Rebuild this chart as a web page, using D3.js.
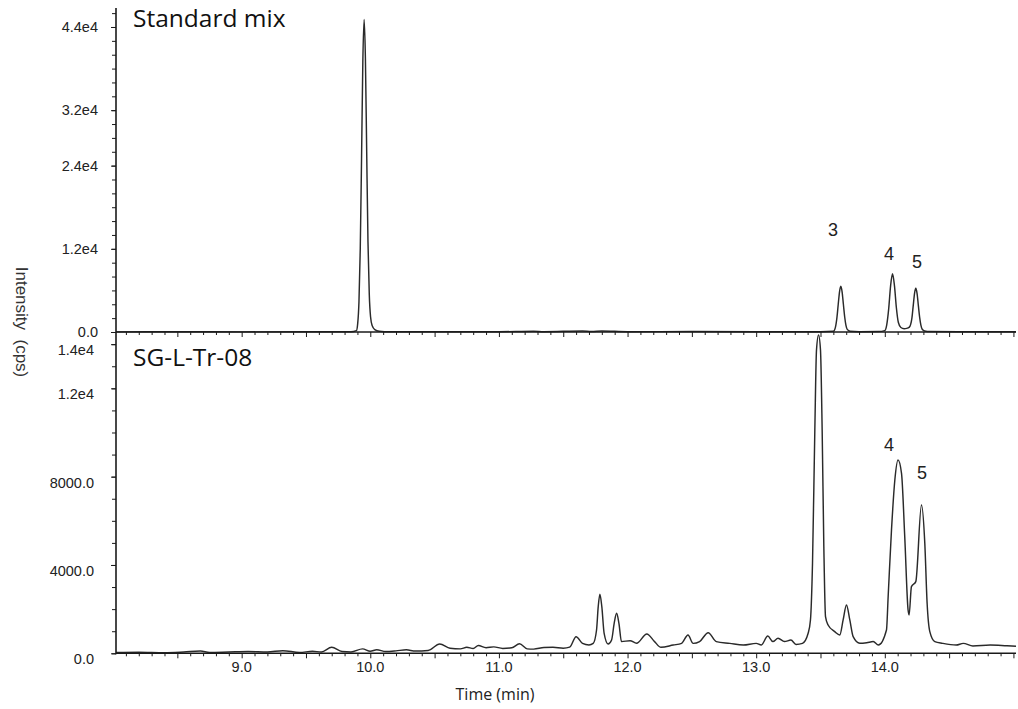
<!DOCTYPE html>
<html>
<head>
<meta charset="utf-8">
<script src="https://cdn.jsdelivr.net/npm/d3@7/dist/d3.min.js"></script>
<style>
  html, body { margin: 0; padding: 0; background: #fff; }
  svg { display: block; }
</style>
</head>
<body>
<svg id="chart" width="1018" height="709"></svg>
<script>
// ---------------- DATA ----------------
const panelTitles = ["Standard mix", "SG-L-Tr-08"];

// Standard mix trace (time in min, intensity in cps)
const stdTime = [8.023, 8.5, 9.0, 9.5, 9.85, 9.892, 9.902, 9.912, 9.922, 9.932, 9.942, 9.952, 9.962, 9.972, 9.982, 9.992, 10.002, 10.015, 10.035, 10.07, 10.15,
  10.6, 11.0, 11.27, 11.35, 11.65, 11.72, 11.8, 12.0, 12.5, 13.0, 13.5,
  13.60, 13.615, 13.628, 13.638, 13.648, 13.658, 13.668, 13.678, 13.688, 13.698, 13.708, 13.73, 13.8, 13.95,
  14.0, 14.015, 14.03, 14.045, 14.06, 14.075, 14.09, 14.105, 14.125, 14.15, 14.17,
  14.191, 14.201, 14.211, 14.221, 14.231, 14.241, 14.251, 14.261, 14.271, 14.281, 14.291, 14.31, 14.35, 14.6, 15.02];
const stdIntensity = [20, 30, 20, 30, 30, 200, 1200, 4400, 12000, 25000, 39000, 45100, 39500, 26000, 13000, 5500, 2200, 900, 350, 120, 40,
  30, 40, 120, 40, 150, 60, 150, 50, 60, 40, 30,
  100, 600, 2100, 4000, 5800, 6600, 5800, 4000, 2200, 950, 380, 120, 50, 60,
  200, 1040, 3300, 6660, 8400, 6700, 3500, 1400, 650, 480, 520,
  700, 1100, 2050, 3800, 5550, 6300, 5550, 3800, 2100, 950, 400, 150, 60, 40, 30];

// SG-L-Tr-08 trace
const smpTime = [8.023, 8.2, 8.4, 8.55, 8.68, 8.75, 8.9, 9.05, 9.2, 9.32, 9.45, 9.55, 9.62, 9.70, 9.78, 9.85, 9.94, 10.0, 10.05, 10.12, 10.2, 10.28, 10.35, 10.45,
  10.54, 10.62, 10.7, 10.75, 10.8, 10.84, 10.9, 10.96, 11.03, 11.1, 11.16, 11.22, 11.27, 11.35, 11.42, 11.5, 11.55, 11.60, 11.65, 11.70,
  11.733, 11.759, 11.772, 11.785, 11.80, 11.818, 11.849, 11.876, 11.896, 11.915, 11.933, 11.953,
  12.02, 12.07, 12.15, 12.21, 12.26, 12.355, 12.42, 12.47, 12.51, 12.56, 12.627, 12.69, 12.795, 12.90, 13.00, 13.04, 13.09, 13.13, 13.17, 13.22, 13.27, 13.31, 13.36,
  13.404, 13.422, 13.438, 13.456, 13.469, 13.485, 13.500, 13.513, 13.526, 13.539, 13.559, 13.611, 13.65, 13.676, 13.702, 13.728, 13.754, 13.806, 13.86, 13.91, 13.95,
  14.013, 14.026, 14.052, 14.078, 14.103, 14.130, 14.155, 14.181, 14.189, 14.207, 14.241, 14.285, 14.311, 14.329, 14.350, 14.389,
  14.45, 14.555, 14.61, 14.685, 14.82, 14.95, 15.02];
const smpIntensity = [40, 50, 30, 60, 100, 40, 60, 80, 60, 120, 40, 90, 60, 270, 80, 60, 200, 90, 160, 80, 110, 160, 100, 130,
  420, 230, 200, 270, 220, 350, 250, 290, 220, 250, 430, 200, 190, 260, 270, 230, 280, 750, 450, 380,
  453, 1056, 2112, 2670, 2112, 906, 422, 604, 1359, 1812, 1359, 528,
  572, 453, 875, 530, 270, 375, 450, 830, 450, 530, 935, 530, 450, 375, 450, 375, 785, 530, 680, 530, 600, 400, 450,
  906, 1510, 4080, 10110, 13740, 14420, 13740, 10110, 4830, 1660, 1283, 980, 830, 1510, 2190, 1510, 754, 453, 480, 530, 375,
  1056, 2565, 5585, 7850, 8756, 8150, 5283, 1962, 1736, 3020, 3246, 6718, 4980, 2265, 980, 527,
  450, 375, 450, 330, 375, 340, 320];

// axis ticks
const xLabelTicks = [9, 10, 11, 12, 13, 14];
const stdYTicks = [0, 12000, 24000, 32000, 44000];
const stdYLabels = ["0.0", "1.2e4", "2.4e4", "3.2e4", "4.4e4"];
const smpYTicks = [0, 4000, 8000, 12000, 14000];
const smpYLabels = ["0.0", "4000.0", "8000.0", "1.2e4", "1.4e4"];

// peak annotations
const stdPeakLabels = ["3", "4", "5"];
const stdPeakTimes = [13.597, 14.033, 14.25];
const stdPeakY = [14715, 11250, 10100];
const smpPeakLabels = ["4", "5"];
const smpPeakTimes = [14.033, 14.29];
const smpPeakY = [9434, 8166];

// ---------------- DRAW ----------------
const svg = d3.select("#chart");
const xDomain = [8.023, 15.02];
const x = d3.scaleLinear().domain(xDomain).range([116, 1016]);
const yTop = d3.scaleLinear().domain([0, 46740]).range([332, 8]);
const yBot = d3.scaleLinear().domain([0, 14506]).range([653.3, 333]);

const ink = "#1a1a1a";
const tickFont = "'Liberation Sans', Arial, sans-serif";

function drawPanel(y, times, vals, yTicks, yLabels, minorStep, labelDy, labelX, title, titleY, peakLabels, peakT, peakY, showXLabels) {
  const g = svg.append("g");
  const yMax = y.domain()[1];
  const minor = d3.range(0, yMax + 1, minorStep);
  g.append("g").attr("transform", "translate(116,0)")
    .call(d3.axisLeft(y).tickValues(minor).tickSize(4).tickFormat(""))
    .call(a => a.select(".domain").remove())
    .selectAll("line").attr("stroke", ink).attr("stroke-width", 1);
  g.append("g").attr("transform", "translate(116,0)")
    .call(d3.axisLeft(y).tickValues(yTicks).tickSize(5).tickFormat(""))
    .call(a => a.select(".domain").remove())
    .selectAll("line").attr("stroke", ink).attr("stroke-width", 1);
  g.append("g").selectAll("text").data(yTicks).join("text")
    .attr("x", labelX).attr("y", d => y(d) + labelDy)
    .attr("text-anchor", "end").attr("dominant-baseline", "central")
    .attr("font-family", tickFont).attr("font-size", 14.5).attr("fill", "#222")
    .text((d, i) => yLabels[i]);

  const minorX = d3.range(8.1, 15.01, 0.1).map(v => +v.toFixed(1));
  const y0 = y.range()[0];
  g.append("g").attr("transform", `translate(0,${y0})`)
    .call(d3.axisBottom(x).tickValues(minorX.filter(v => Math.abs(v * 2 - Math.round(v * 2)) > 1e-6)).tickSize(3).tickFormat(""))
    .call(a => a.select(".domain").remove())
    .selectAll("line").attr("stroke", ink).attr("stroke-width", 1);
  g.append("g").attr("transform", `translate(0,${y0})`)
    .call(d3.axisBottom(x).tickValues(minorX.filter(v => Math.abs(v * 2 - Math.round(v * 2)) <= 1e-6)).tickSize(5).tickFormat(""))
    .call(a => a.select(".domain").remove())
    .selectAll("line").attr("stroke", ink).attr("stroke-width", 1);
  if (showXLabels) {
    g.append("g").selectAll("text").data(xLabelTicks).join("text")
      .attr("x", d => x(d)).attr("y", 667)
      .attr("text-anchor", "middle").attr("dominant-baseline", "central")
      .attr("font-family", tickFont).attr("font-size", 14.5).attr("fill", "#222")
      .text(d => d.toFixed(1));
  }

  const pts = times.map((t, i) => [t, vals[i]]);
  g.append("path").datum(pts)
    .attr("fill", "none").attr("stroke", "#2a2a2a").attr("stroke-width", 1.45)
    .attr("stroke-linejoin", "round")
    .attr("d", d3.line().x(d => x(d[0])).y(d => y(d[1])).curve(d3.curveMonotoneX));

  g.append("line").attr("x1", 116).attr("x2", 116).attr("y1", y.range()[1]).attr("y2", y0 + 1)
    .attr("stroke", ink).attr("stroke-width", 1.6);
  g.append("line").attr("x1", 116).attr("x2", 1016).attr("y1", y0).attr("y2", y0)
    .attr("stroke", ink).attr("stroke-width", 1.6);

  g.append("text").attr("x", 133).attr("y", titleY)
    .attr("font-family", "'Open Sans', sans-serif").attr("font-size", 24.5).attr("fill", "#111")
    .text(title);

  g.append("g").selectAll("text").data(peakLabels).join("text")
    .attr("x", (d, i) => x(peakT[i])).attr("y", (d, i) => y(peakY[i]))
    .attr("text-anchor", "middle").attr("dominant-baseline", "central")
    .attr("font-family", tickFont).attr("font-size", 18).attr("fill", "#222")
    .text(d => d);
}

drawPanel(yTop, stdTime, stdIntensity, stdYTicks, stdYLabels, 2000, 0, 98, panelTitles[0], 27, stdPeakLabels, stdPeakTimes, stdPeakY, false);
drawPanel(yBot, smpTime, smpIntensity, smpYTicks, smpYLabels, 1000, 6, 94, panelTitles[1], 366, smpPeakLabels, smpPeakTimes, smpPeakY, true);

svg.append("text")
  .attr("transform", "translate(21,322) rotate(90)")
  .attr("text-anchor", "middle").attr("dominant-baseline", "central")
  .attr("font-family", tickFont).attr("font-size", 17).attr("fill", "#333")
  .attr("xml:space", "preserve").style("white-space", "pre")
  .text("Intensity  (cps)");

svg.append("text")
  .attr("x", 495).attr("y", 694)
  .attr("text-anchor", "middle").attr("dominant-baseline", "central")
  .attr("font-family", "'Open Sans', sans-serif").attr("font-size", 16).attr("fill", "#222")
  .text("Time (min)");
</script>
</body>
</html>
